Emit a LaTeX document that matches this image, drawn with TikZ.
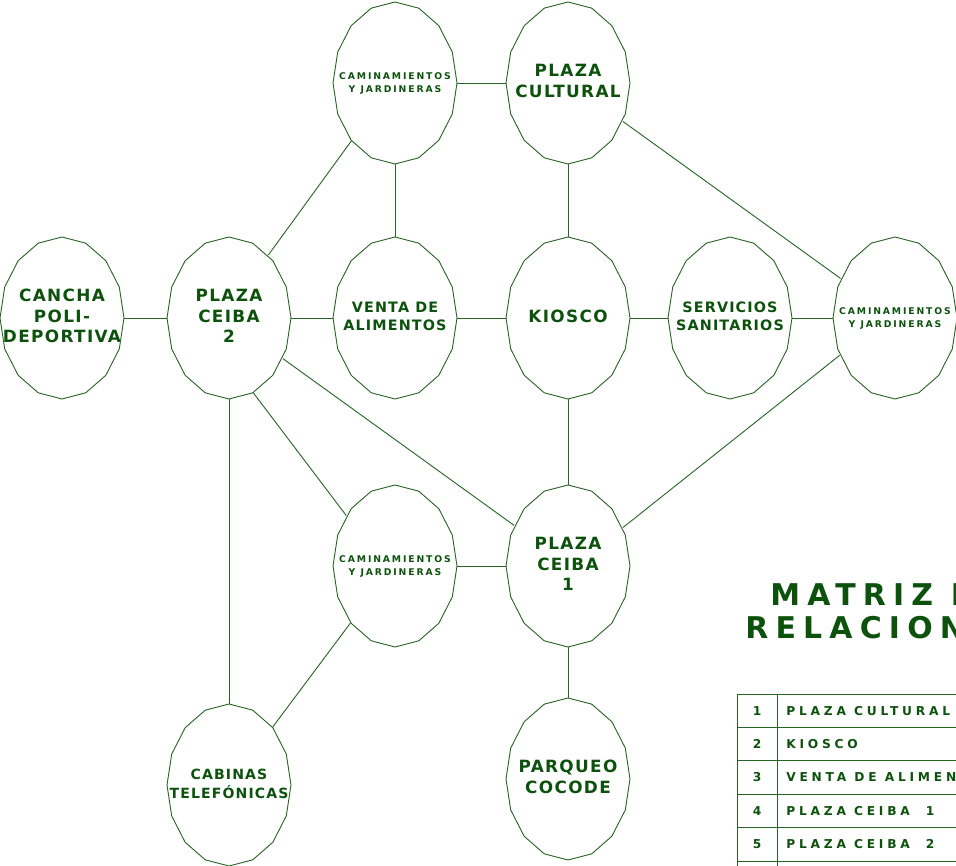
\documentclass[tikz,border=0pt]{standalone}
\usepackage{fontspec}
\usepackage{tikz}
\usetikzlibrary{shapes.geometric}
\newfontfamily\labelfont[LetterSpace=8]{DejaVu Sans}
\newfontfamily\tagfont[LetterSpace=20]{DejaVu Sans}
\newfontfamily\titlefont[LetterSpace=24]{DejaVu Sans}
\newfontfamily\listfont[LetterSpace=31]{DejaVu Sans}
\definecolor{leaf}{RGB}{12,82,12}
\definecolor{stem}{RGB}{40,100,35}
\newcommand{\inside}[1]{\makebox[0pt]{\begin{tabular}{@{}c@{}}#1\end{tabular}}}
\tikzset{
    spot/.style={ellipse, minimum width=3.1cm, minimum height=4.05cm, inner sep=0pt, text=leaf},
    big/.style={spot, font=\labelfont\bfseries\fontsize{12}{14.5}\selectfont},
    mid/.style={spot, font=\labelfont\bfseries\fontsize{10.2}{12.5}\selectfont},
    small/.style={spot, font=\tagfont\bfseries\fontsize{6.6}{9.4}\selectfont},
    link/.style={stem, line width=0.65pt},
    grid/.style={stem, line width=0.7pt},
    heading/.style={inner sep=0pt, anchor=base west, text=leaf, font=\titlefont\bfseries\fontsize{21.3}{24}\selectfont},
    entry/.style={inner sep=0pt, text=leaf, font=\listfont\bfseries\fontsize{8.7}{10}\selectfont}
}

\begin{document}
\begin{tikzpicture}
                        \useasboundingbox (0, 0) rectangle (23.9, 21.65);

                        \node[small] (cam1) at (9.875, 19.575) {\inside{CAMINAMIENTOS\\Y JARDINERAS}};
                        \node[big] (cult) at (14.2, 19.575) {\inside{PLAZA\\CULTURAL}};
                        \node[big] (cancha) at (1.55, 13.7) {\inside{CANCHA\\POLI-\\DEPORTIVA}};
                        \node[big] (ceiba2) at (5.725, 13.7) {\inside{PLAZA\\CEIBA\\2}};
                        \node[mid] (venta) at (9.875, 13.7) {\inside{VENTA DE\\ALIMENTOS}};
                        \node[big] (kiosco) at (14.2, 13.7) {\inside{KIOSCO}};
                        \node[mid] (servicios) at (18.25, 13.7) {\inside{SERVICIOS\\SANITARIOS}};
                        \node[small] (cam2) at (22.375, 13.7) {\inside{CAMINAMIENTOS\\Y JARDINERAS}};
                        \node[small] (cam3) at (9.875, 7.5) {\inside{CAMINAMIENTOS\\Y JARDINERAS}};
                        \node[big] (ceiba1) at (14.2, 7.5) {\inside{PLAZA\\CEIBA\\1}};
                        \node[mid, font=\labelfont\bfseries\fontsize{10}{14}\selectfont] (cabinas) at (5.725, 2.025) {\inside{CABINAS\\TELEFÓNICAS}};
                        \node[big] (parqueo) at (14.2, 2.175) {\inside{PARQUEO\\COCODE}};

                        \foreach \n in {cam1, cult, cancha, ceiba2, venta, kiosco, servicios, cam2, cam3, ceiba1, cabinas, parqueo}
                            \draw[link, shift={(\n)}] (90:1.55cm and 2.025cm)
                            \foreach \k in {1, ..., 15} {-- ({90+22.5*\k}:1.55cm and 2.025cm)} -- cycle;

                        \draw[link]
                        (cancha) edge (ceiba2)
                        (ceiba2) edge (venta)
                        (ceiba2.58) edge (cam1.233)
                        (cam1) edge (cult)
                        (cam1) edge (venta)
                        (cult) edge (kiosco)
                        (cult.-35.5) edge (cam2.144.2)
                        (venta) edge (kiosco)
                        (kiosco) edge (servicios)
                        (servicios) edge (cam2)
                        (kiosco) edge (ceiba1)
                        (cam2.214.4) edge (ceiba1.35.7)
                        (ceiba2.-37.2) edge (ceiba1.143.3)
                        (ceiba2.-72) edge (cam3.134)
                        (ceiba2) edge (cabinas)
                        (cam3) edge (ceiba1)
                        (cam3.232.7) edge (cabinas.53.2)
                        (ceiba1) edge (parqueo);

                        \node[heading] (matriz) at (19.25, 6.5) {MATRIZ DE};
                        \node[heading] (relacion) at (18.625, 5.675) {RELACIONES};

                        \foreach \r in {0, ..., 5}
                            \draw[grid] (18.425, {4.3-0.835*\r}) -- (25, {4.3-0.835*\r});
                        \draw[grid] (18.425, 4.3) -- (18.425, -0.5);
                        \draw[grid] (19.425, 4.3) -- (19.425, -0.5);
                        \foreach \k/\what in {1/PLAZA CULTURAL, 2/KIOSCO, 3/VENTA DE ALIMENTOS, 4/PLAZA CEIBA~~1, 5/PLAZA CEIBA~~2}
                        {
                            \node[entry] (num\k) at (18.925, {4.3-0.835*(\k-0.5)}) {\k};
                            \node[entry, anchor=west] (item\k) at (19.65, {4.3-0.835*(\k-0.5)}) {\what};
                        }
                    \end{tikzpicture}
\end{document}
